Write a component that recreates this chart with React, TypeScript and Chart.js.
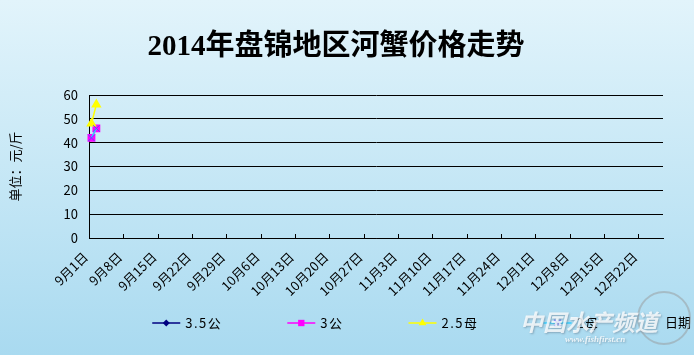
import React, { useEffect, useRef } from "react";
import { Chart, registerables } from "chart.js";

Chart.register(...registerables);

const TITLE = "2014年盘锦地区河蟹价格走势";
const Y_TITLE = "单位：元/斤";
const X_TITLE = "日期";
const WATERMARK = "中国水产频道";
const WATERMARK_URL = "www.fishfirst.cn";

// daily categories, 9月1日 .. 12月26日
const MONTHS = [9, 10, 11, 12];
const MONTH_DAYS = [30, 31, 30, 26];
const categories: string[] = [];
MONTHS.forEach((m, i) => {
  for (let d = 1; d <= MONTH_DAYS[i]; d++) categories.push(`${m}月${d}日`);
});

const tickLabels = [
  "9月1日", "9月8日", "9月15日", "9月22日", "9月29日",
  "10月6日", "10月13日", "10月20日", "10月27日",
  "11月3日", "11月10日", "11月17日", "11月24日",
  "12月1日", "12月8日", "12月15日", "12月22日",
];

const seriesNames = ["3.5公", "3公", "2.5母", "2母"];
const male35: (number | null)[] = [];
const male3: (number | null)[] = [42, 46];
const female25: (number | null)[] = [48, 56];
const female2: (number | null)[] = [42, 46];

const yMin = 0;
const yMax = 60;
const yStep = 10;

const FONT = "'Noto Sans CJK SC', 'DejaVu Sans', sans-serif";

function drawMarker(ctx: CanvasRenderingContext2D, style: string, x: number, y: number, r: number, color: string) {
  ctx.save();
  ctx.fillStyle = color;
  ctx.strokeStyle = color;
  ctx.lineWidth = 1.5;
  ctx.beginPath();
  if (style === "rectRot") {
    ctx.moveTo(x, y - r); ctx.lineTo(x + r, y); ctx.lineTo(x, y + r); ctx.lineTo(x - r, y); ctx.closePath(); ctx.fill();
  } else if (style === "rect") {
    const s = r * Math.SQRT1_2;
    ctx.rect(x - s, y - s, 2 * s, 2 * s); ctx.fill();
  } else if (style === "triangle") {
    ctx.moveTo(x, y - r); ctx.lineTo(x + r * 0.87, y + r * 0.5); ctx.lineTo(x - r * 0.87, y + r * 0.5); ctx.closePath(); ctx.fill();
  } else if (style === "crossRot") {
    const s = r * Math.SQRT1_2;
    ctx.moveTo(x - s, y - s); ctx.lineTo(x + s, y + s); ctx.moveTo(x + s, y - s); ctx.lineTo(x - s, y + s); ctx.stroke();
  }
  ctx.restore();
}

const decorPlugin = {
  id: "decor",
  afterDraw(chart: any) {
    const { ctx, chartArea } = chart;
    const xs = chart.scales.x;
    ctx.save();
    // title
    ctx.fillStyle = "#000";
    ctx.font = `bold 29px 'Liberation Serif', 'Noto Sans CJK SC', serif`;
    ctx.textAlign = "center";
    ctx.textBaseline = "middle";
    ctx.fillText(TITLE, 336, 48);

    // inner tick marks on x axis every 7 categories
    const half = (xs.getPixelForValue(1) - xs.getPixelForValue(0)) / 2;
    ctx.strokeStyle = "#000";
    ctx.lineWidth = 1;
    categories.forEach((c, i) => {
      if (!tickLabels.includes(c)) return;
      const px = Math.round(xs.getPixelForValue(i) - half) + 0.5;
      ctx.beginPath();
      ctx.moveTo(px, chartArea.bottom - 4);
      ctx.lineTo(px, chartArea.bottom);
      ctx.stroke();
    });

    // legend
    const ds = chart.data.datasets;
    ctx.font = `13px ${FONT}`;
    (ctx as any).letterSpacing = "1.5px";
    const lineLen = 28, textGap = 5, itemGap = 65;
    const widths = ds.map((d: any) => lineLen + textGap + ctx.measureText(d.label).width);
    const total = widths.reduce((a: number, b: number) => a + b, 0) + itemGap * (ds.length - 1);
    let lx = (chartArea.left + chartArea.right) / 2 - total / 2;
    const ly = 323;
    ds.forEach((d: any, i: number) => {
      ctx.strokeStyle = d.borderColor;
      ctx.lineWidth = 1.5;
      ctx.beginPath();
      ctx.moveTo(lx, ly);
      ctx.lineTo(lx + lineLen, ly);
      ctx.stroke();
      drawMarker(ctx, d.pointStyle, lx + lineLen / 2, ly, d.pointRadius, d.pointBorderColor || d.borderColor);
      ctx.fillStyle = "#000";
      ctx.textAlign = "left";
      ctx.textBaseline = "middle";
      ctx.fillText(d.label, lx + lineLen + textGap, ly);
      lx += widths[i] + itemGap;
    });
    (ctx as any).letterSpacing = "0px";

    // x axis title (bottom right)
    ctx.font = `13px ${FONT}`;
    ctx.fillStyle = "#000";
    ctx.textAlign = "left";
    ctx.fillText(X_TITLE, chartArea.right + 2, 322);

    // watermark
    ctx.globalAlpha = 0.8;
    ctx.strokeStyle = "rgba(150,150,150,0.6)";
    ctx.lineWidth = 2;
    ctx.beginPath();
    ctx.arc(664, 318, 26, 0, Math.PI * 2);
    ctx.stroke();
    ctx.fillStyle = "#ffffff";
    ctx.shadowColor = "rgba(90,110,130,0.6)";
    ctx.shadowBlur = 2;
    ctx.shadowOffsetX = 1;
    ctx.shadowOffsetY = 1;
    ctx.font = `italic bold 23px ${FONT}`;
    ctx.textAlign = "left";
    ctx.fillText(WATERMARK, 520, 322);
    ctx.font = `italic bold 9px 'Liberation Serif', serif`;
    ctx.fillText(WATERMARK_URL, 565, 340);
    ctx.restore();
  },
};

export default function App() {
  const ref = useRef<HTMLCanvasElement | null>(null);
  useEffect(() => {
    document.body.style.margin = "0";
    if (!ref.current) return;
    const chart = new Chart(ref.current, {
      type: "line",
      data: {
        labels: categories,
        datasets: [
          {
            label: seriesNames[0], data: male35, borderColor: "#000080", backgroundColor: "#000080",
            pointStyle: "rectRot", pointRadius: 3.5, pointBackgroundColor: "#000080", pointBorderColor: "#000080",
            borderWidth: 1.5, order: 4,
          },
          {
            label: seriesNames[1], data: male3, borderColor: "#FF00FF", backgroundColor: "#FF00FF",
            pointStyle: "rect", pointRadius: 4.5, pointBackgroundColor: "#FF00FF", pointBorderColor: "#FF00FF",
            borderWidth: 1.5, order: 3,
          },
          {
            label: seriesNames[2], data: female25, borderColor: "#FFFF00", backgroundColor: "#FFFF00",
            pointStyle: "triangle", pointRadius: 4.5, pointBackgroundColor: "#FFFF00", pointBorderColor: "#FFFF00",
            borderWidth: 1.5, order: 2,
          },
          {
            label: seriesNames[3], data: female2, borderColor: "#33CCFF", backgroundColor: "#33CCFF",
            pointStyle: "crossRot", pointRadius: 4.5, pointBackgroundColor: "#5050FF", pointBorderColor: "#5050FF",
            pointBorderWidth: 1, borderWidth: 1.5, order: 1,
          },
        ],
      },
      options: {
        animation: false,
        responsive: false,
        layout: { padding: { top: 95, left: 0, right: 31, bottom: 55 } },
        plugins: {
          legend: { display: false },
          title: { display: false },
          tooltip: { enabled: false },
        },
        scales: {
          x: {
            type: "category",
            offset: true,
            grid: { display: false, drawTicks: false, offset: true },
            border: { display: true, color: "#000", width: 1 },
            ticks: {
              autoSkip: false,
              minRotation: 45,
              maxRotation: 45,
              padding: 11,
              labelOffset: -6,
              color: "#000",
              font: { size: 13, family: FONT },
              callback: (_v: any, i: number) => (tickLabels.includes(categories[i]) ? categories[i] : null),
            },
            afterFit: (s: any) => { s.height = 62; },
          },
          y: {
            min: yMin,
            max: yMax,
            grid: { color: "#000", lineWidth: 1, drawTicks: false },
            border: { display: true, color: "#000", width: 1 },
            ticks: {
              stepSize: yStep,
              padding: 11,
              color: "#000",
              font: { size: 13, family: FONT },
            },
            title: {
              display: true,
              text: Y_TITLE,
              color: "#000",
              font: { size: 13, family: FONT },
              padding: { top: 7, bottom: 4 },
            },
            afterFit: (s: any) => { s.width = 89; },
          },
        },
      },
      plugins: [decorPlugin],
    });
    return () => chart.destroy();
  }, []);
  return (
    <div style={{ width: 694, height: 355, background: "linear-gradient(#e2f4fb, #a9daf0)" }}>
      <canvas ref={ref} width={694} height={355} style={{ display: "block" }} />
    </div>
  );
}
